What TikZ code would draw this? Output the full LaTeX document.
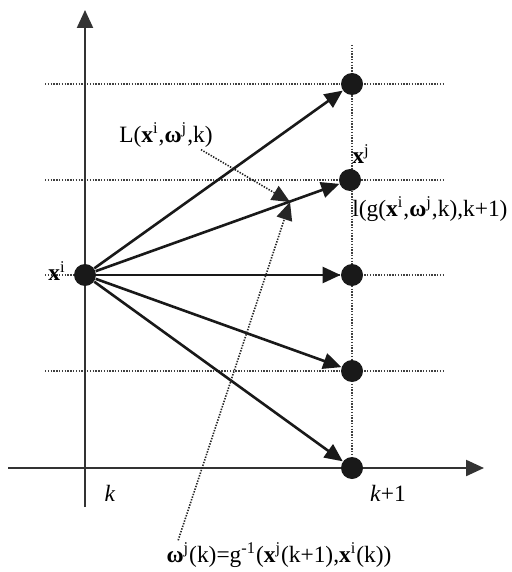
\documentclass[tikz,border=0pt]{standalone}
\usepackage{fontspec}
\setmainfont{Liberation Serif}
\usetikzlibrary{arrows.meta}

\begin{document}
\begin{tikzpicture}[
    x=0.5pt, y=-0.5pt,
    >={Triangle[length=9pt, width=8pt]}, font=\fontsize{11.7}{13.5}\selectfont,
    state/.style={circle, fill=black!90, inner sep=0pt, minimum size=11pt},
    grid/.style={dash pattern=on 0.7pt off 0.7pt, line width=0.7pt, black!75},
    axis/.style={line width=1.1pt, black!80, -{Triangle[length=9pt, width=8pt]}},
    trans/.style={->, line width=1.3pt, black!90},
    hint/.style={->, dash pattern=on 0.7pt off 0.7pt, line width=0.8pt, black!85},
    lbl/.style={inner sep=1pt}
]
    \useasboundingbox (0,0) rectangle (511,572);

    \foreach \y in {84,180,275,371} \draw[grid] (45,\y) -- (445,\y);
    \draw[grid] (352,45) -- (352,468);

    \draw[axis] (85,507) -- (85,10);
    \draw[axis] (8,468) -- (484,468);

    \node[state] (xi) at (85,275) {};
    \node[state] (xj1) at (352,84) {};
    \node[state] (xj2) at (350,180) {};
    \node[state] (xj3) at (352,275) {};
    \node[state] (xj4) at (352,371) {};
    \node[state] (xj5) at (352,468) {};
    \foreach \n in {1,...,5} \draw[trans] (xi) -- (xj\n);

    \node[lbl, anchor=east] (lbl_xi) at (68,271) {\textbf{x}\textsuperscript{i}};
    \node[lbl, anchor=west] (lbl_xj) at (350,154) {\textbf{x}\textsuperscript{j}};
    \node[lbl, anchor=west] (lbl_cost) at (350,209) {l(g(\textbf{x}\textsuperscript{i},\textbf{ω}\textsuperscript{j},k),k+1)};
    \node[lbl] (lbl_L) at (166,135) {L(\textbf{x}\textsuperscript{i},\textbf{ω}\textsuperscript{j},k)};
    \node[lbl] (lbl_k) at (110,493) {\textit{k}};
    \node[lbl] (lbl_k1) at (388,493) {\textit{k}+1};
    \node[lbl] (lbl_w) at (279,555) {\textbf{ω}\textsuperscript{j}(k)=g\textsuperscript{-1}(\textbf{x}\textsuperscript{j}(k+1),\textbf{x}\textsuperscript{i}(k))};

    \coordinate (meet) at (290,202);
    \draw[hint] ([xshift=-7pt]lbl_L.south east) -- (meet);
    \draw[hint] ([xshift=7pt]lbl_w.north west) -- (meet);
\end{tikzpicture}
\end{document}
